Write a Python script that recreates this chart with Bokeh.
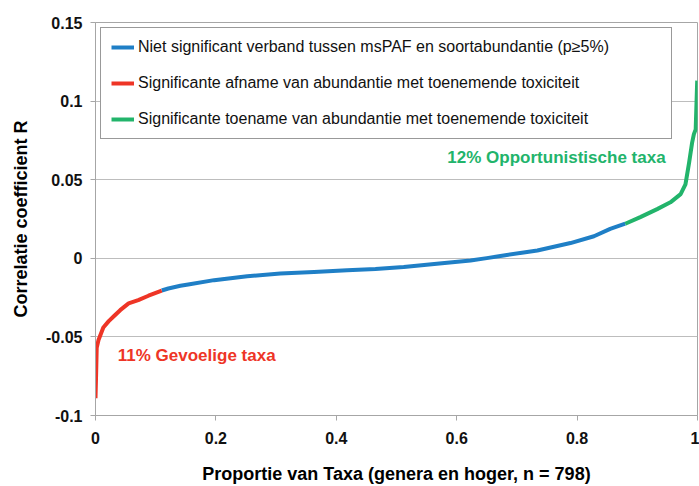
from bokeh.plotting import figure
from bokeh.models import Range1d, FixedTicker, Legend, LegendItem, Label
from bokeh.embed import file_html
from bokeh.resources import INLINE

# ---- data (proportion of taxa, correlation R) ----
red_x = [0.0, 0.001, 0.002, 0.005, 0.009, 0.013, 0.022, 0.030, 0.041, 0.055, 0.071, 0.088, 0.110]
red_r = [-0.089, -0.074, -0.057, -0.052, -0.048, -0.044, -0.040, -0.037, -0.033, -0.0287, -0.0266, -0.0238, -0.0205]

blue_x = [0.110, 0.121, 0.141, 0.154, 0.197, 0.252, 0.307, 0.363, 0.418, 0.465, 0.512, 0.567,
          0.623, 0.650, 0.678, 0.734, 0.789, 0.828, 0.855, 0.880]
blue_r = [-0.0205, -0.0192, -0.0175, -0.0167, -0.0139, -0.0114, -0.0097, -0.0087, -0.0076, -0.0068, -0.0056, -0.0035,
          -0.0014, 0.0001, 0.0018, 0.0050, 0.0097, 0.0140, 0.0187, 0.0220]

green_x = [0.880, 0.905, 0.933, 0.955, 0.972, 0.980, 0.986, 0.991, 0.994, 0.997, 0.9995]
green_r = [0.0220, 0.0262, 0.0313, 0.0356, 0.0408, 0.0470, 0.0607, 0.0734, 0.0790, 0.0820, 0.1130]

legend_labels = [
    "Niet significant verband tussen msPAF en soortabundantie (p\u22655%)",
    "Significante afname van abundantie met toenemende toxiciteit",
    "Significante toename van abundantie met toenemende toxiciteit",
]

x_ticks = [0.0, 0.2, 0.4, 0.6, 0.8, 1.0]
x_tick_labels = ["0", "0.2", "0.4", "0.6", "0.8", "1"]
y_ticks = [-0.1, -0.05, 0.0, 0.05, 0.1, 0.15]
y_tick_labels = ["-0.1", "-0.05", "0", "0.05", "0.1", "0.15"]

sens_text, sens_x, sens_y = "11% Gevoelige taxa", 0.037, -0.062
opp_text, opp_x, opp_y = "12% Opportunistische taxa", 0.947, 0.064

BLUE = "#1f7fc6"
RED = "#ee3526"
GREEN = "#22b46b"
FONT = "Liberation Sans"

p = figure(width=699, height=486, output_backend="svg", toolbar_location=None,
           x_range=Range1d(0, 1), y_range=Range1d(-0.1, 0.15),
           min_border_left=95, min_border_right=2, min_border_top=22, min_border_bottom=68)

p.outline_line_color = "#a6a6a6"
p.outline_line_width = 1
p.xgrid.visible = False
p.ygrid.grid_line_color = "#bdbdbd"
p.ygrid.grid_line_width = 1

p.xaxis.ticker = FixedTicker(ticks=x_ticks)
p.yaxis.ticker = FixedTicker(ticks=y_ticks)
p.xaxis.major_label_overrides = dict(zip(x_ticks, x_tick_labels))
p.yaxis.major_label_overrides = dict(zip(y_ticks, y_tick_labels))

for ax in (p.xaxis, p.yaxis):
    ax.axis_line_color = "#a6a6a6"
    ax.major_tick_line_color = "#a6a6a6"
    ax.major_tick_out = 5
    ax.major_tick_in = 0
    ax.minor_tick_line_color = None
    ax.major_label_text_font = FONT
    ax.major_label_text_font_style = "bold"
    ax.major_label_text_font_size = "16px"
    ax.major_label_text_color = "#111111"
    ax.axis_label_text_font = FONT
    ax.axis_label_text_font_style = "bold"
    ax.axis_label_text_font_size = "18px"
    ax.axis_label_text_color = "#000000"

p.xaxis.axis_label = "Proportie van Taxa (genera en hoger, n = 798)"
p.yaxis.axis_label = "Correlatie coefficient R"
p.xaxis.major_label_standoff = 11
p.yaxis.major_label_standoff = 8
p.xaxis.axis_label_standoff = 17
p.yaxis.axis_label_standoff = 12

r_blue = p.line(blue_x, blue_r, line_color=BLUE, line_width=4, line_join="round")
r_red = p.line(red_x, red_r, line_color=RED, line_width=4, line_join="round")
r_green = p.line(green_x, green_r, line_color=GREEN, line_width=4, line_join="round")

legend = Legend(items=[
    LegendItem(label=legend_labels[0], renderers=[r_blue]),
    LegendItem(label=legend_labels[1], renderers=[r_red]),
    LegendItem(label=legend_labels[2], renderers=[r_green]),
], location="top_left")
legend.margin = 5
legend.padding = 10
legend.spacing = 18
legend.glyph_width = 23
legend.glyph_height = 16
legend.label_height = 17
legend.label_width = 523
legend.label_standoff = 4
legend.label_text_font = FONT
legend.label_text_font_size = "16px"
legend.label_text_color = "#111111"
legend.border_line_color = "#333333"
legend.border_line_width = 1
legend.background_fill_color = "white"
legend.background_fill_alpha = 1
p.add_layout(legend)

p.add_layout(Label(x=sens_x, y=sens_y, text=sens_text, text_color=RED, text_font=FONT,
                   text_font_style="bold", text_font_size="17px", text_baseline="middle"))
p.add_layout(Label(x=opp_x, y=opp_y, text=opp_text, text_color=GREEN, text_font=FONT,
                   text_font_style="bold", text_font_size="17px", text_baseline="middle",
                   text_align="right"))

open("out.html", "w").write(file_html(p, INLINE))
